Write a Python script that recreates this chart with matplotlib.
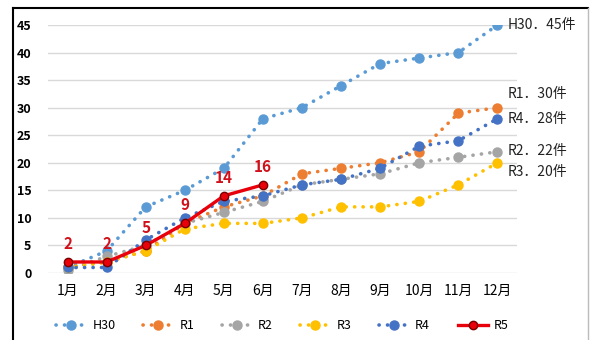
import matplotlib.pyplot as plt
from matplotlib.lines import Line2D

plt.rcParams['font.family'] = ['Noto Sans CJK JP', 'DejaVu Sans']

months = ["1月", "2月", "3月", "4月", "5月", "6月", "7月", "8月", "9月", "10月", "11月", "12月"]
h30 = [1, 4, 12, 15, 19, 28, 30, 34, 38, 39, 40, 45]
r1 = [1, 2, 4, 9, 12, 14, 18, 19, 20, 22, 29, 30]
r2 = [0.5, 3, 5, 9, 11, 13, 16, 17, 18, 20, 21, 22]
r3 = [1, 2, 4, 8, 9, 9, 10, 12, 12, 13, 16, 20]
r4 = [1, 1, 6, 10, 13, 14, 16, 17, 19, 23, 24, 28]
r5 = [2, 2, 5, 9, 14, 16]

series = [("H30", h30, "#5B9BD5"), ("R1", r1, "#ED7D31"), ("R2", r2, "#A5A5A5"),
          ("R3", r3, "#FFC000"), ("R4", r4, "#4472C4")]
end_labels = [("H30．45件", 45), ("R1．30件", 32.5), ("R4．28件", 28), ("R2．22件", 22.2), ("R3．20件", 18.3)]

fig = plt.figure(figsize=(5.9, 3.4), dpi=100)
ax = fig.add_axes([48 / 590, 67 / 340, (517 - 48) / 590, 248 / 340])

x = list(range(1, 13))
dots = (0, (0.05, 2.3))
for name, vals, col in series:
    ax.plot(x, vals, linestyle=dots, dash_capstyle='round', lw=2.6, color=col,
            marker='o', markersize=6.5, label=name, zorder=3)

ax.plot(x[:len(r5)], r5, color="#E8000B", lw=2.4, marker='o', markersize=6,
        markerfacecolor="#E8000B", markeredgecolor="#7A0000", markeredgewidth=1, label="R5", zorder=5)
for xi, v in zip(x, r5):
    ax.text(xi, v + 1.8, str(v), color="#D0101A", fontsize=11, fontweight='bold',
            ha='center', va='bottom', zorder=6)

for txt, yv in end_labels:
    ax.text(12.25, yv, txt, fontsize=10, va='center', ha='left', color="#222222")

ax.set_xlim(0.5, 12.5)
ax.set_ylim(0, 45)
ax.set_yticks(range(0, 46, 5))
ax.set_xticks(x)
ax.set_xticklabels(months, fontsize=10)
for lab in ax.get_yticklabels():
    lab.set_fontweight('bold')
    lab.set_fontsize(9)
ax.grid(axis='y', color="#D9D9D9", lw=1)
ax.set_axisbelow(True)
for s in ax.spines.values():
    s.set_visible(False)
ax.tick_params(length=0, pad=8)
ax.tick_params(axis='y', pad=12)

ax.legend(loc='upper center', bbox_to_anchor=(0.5, -0.14), ncol=6, frameon=False,
          fontsize=9, handlelength=2.4, columnspacing=2.2, handletextpad=0.5)

# outer frame: black left and top, light right, open at the bottom
fig.add_artist(Line2D([13 / 590, 13 / 590], [0, 332 / 340], transform=fig.transFigure, color='black', lw=1.5))
fig.add_artist(Line2D([13 / 590, 588 / 590], [332 / 340, 332 / 340], transform=fig.transFigure, color='black', lw=1.5))
fig.add_artist(Line2D([588 / 590, 588 / 590], [0, 332 / 340], transform=fig.transFigure, color='#BBBBBB', lw=1))

fig.savefig("out.png", dpi=100)
